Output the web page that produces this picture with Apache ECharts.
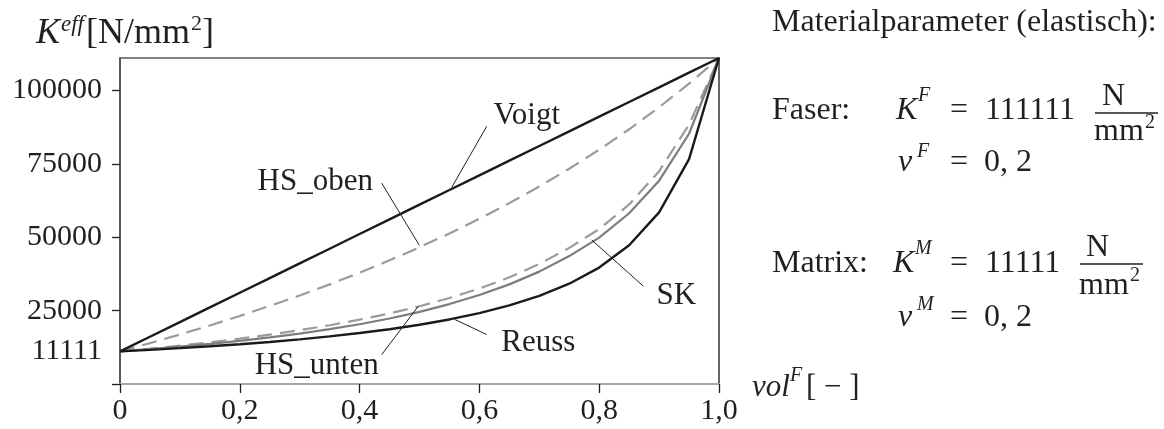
<!DOCTYPE html>
<html>
<head>
<meta charset="utf-8">
<script src="https://cdn.jsdelivr.net/npm/echarts@6/dist/echarts.min.js"></script>
<style>
html,body{margin:0;padding:0;background:#fff;}
#chart{width:1164px;height:429px;}
</style>
</head>
<body>
<div id="chart"></div>
<script>
// ---- data ----
const volF = [0, 0.05, 0.1, 0.15, 0.2, 0.25, 0.3, 0.35, 0.4, 0.45, 0.5, 0.55, 0.6, 0.65, 0.7, 0.75, 0.8, 0.85, 0.9, 0.95, 1.0];
const voigt = [11111, 16111, 21111, 26111, 31111, 36111, 41111, 46111, 51111, 56111, 61111, 66111, 71111, 76111, 81111, 86111, 91111, 96111, 101111, 106111, 111111];
const hsOben = [11111, 13924, 16870, 19958, 23199, 26604, 30186, 33960, 37940, 42145, 46595, 51310, 56316, 61641, 67315, 73375, 79861, 86820, 94304, 102377, 111111];
const hsUnten = [11111, 12059, 13091, 14220, 15459, 16825, 18340, 20028, 21922, 24061, 26496, 29293, 32540, 36354, 40898, 46405, 52800, 61200, 72500, 88400, 111111];
const sk = [11111, 11909, 12741, 13670, 14709, 15875, 17190, 18678, 20372, 22311, 24596, 27243, 30340, 33954, 38298, 43605, 49900, 58200, 69300, 85300, 111111];
const reuss = [11111, 11635, 12210, 12845, 13550, 14337, 15221, 16221, 17361, 18674, 20202, 22002, 24154, 26774, 30030, 34188, 39682, 47281, 58479, 76628, 111111];

const xTickLabels = ['0', '0,2', '0,4', '0,6', '0,8', '1,0'];
const yTickValues = [0, 25000, 50000, 75000, 100000];
const yLabelValues = [11111, 25000, 50000, 75000, 100000];

// curve labels and leader lines, in data units
const curveLabelNames = ['Voigt', 'HS_oben', 'SK', 'Reuss', 'HS_unten'];
const curveLabelAt = [[0.679, 91500], [0.326, 69000], [0.9287, 30000], [0.6984, 14000], [0.3283, 6100]];
const leaders = [
  [[0.6122, 87830], [0.5537, 66990]],
  [[0.4369, 68460], [0.4997, 47270]],
  [[0.8736, 33360], [0.7875, 49080]],
  [[0.6122, 16850], [0.5593, 21975]],
  [[0.4369, 10010], [0.4980, 26520]]
];

const pair = arr => volF.map((v, i) => [v, arr[i]]);
const FONT = '"Liberation Serif", "DejaVu Serif", serif';
const INK = '#231f20';

function t(x, y, text, size, italic, align) {
  return {
    type: 'text', x: x, y: y, silent: true, z: 10,
    style: {
      text: text, fontSize: size, fontFamily: FONT,
      fontStyle: italic ? 'italic' : 'normal',
      fill: INK, align: align || 'left', verticalAlign: 'middle'
    }
  };
}
function hline(x1, x2, y) {
  return { type: 'line', silent: true, shape: { x1: x1, y1: y, x2: x2, y2: y }, style: { stroke: INK, lineWidth: 1.3 } };
}

const staticGraphics = [
  // y axis name  K^eff [N/mm^2]
  t(36, 34, 'K', 36, true),
  t(61, 25, 'eff', 23, true),
  t(86, 34, '[N/mm', 36, false),
  t(191, 24, '2', 22, false),
  t(202, 34, ']', 36, false),
  // x axis name  vol^F [ − ]
  t(752, 388, 'vol', 31, true),
  t(790, 376, 'F', 20, true),
  t(806, 388, '[ − ]', 31, false),
  // parameter block
  t(772, 23, 'Materialparameter (elastisch):', 32, false),
  t(772, 111, 'Faser:', 32, false),
  t(896, 111, 'K', 32, true),
  t(918, 96, 'F', 20, true),
  t(950, 111, '=', 32, false),
  t(985, 111, '111111', 32, false),
  t(1102, 97, 'N', 32, false),
  hline(1095, 1158, 113),
  t(1094, 132, 'mm', 32, false),
  t(1145, 123, '2', 20, false),
  t(898, 163, 'ν', 32, true),
  t(917, 152, 'F', 20, true),
  t(950, 163, '=', 32, false),
  t(984, 163, '0, 2', 32, false),
  t(772, 264, 'Matrix:', 32, false),
  t(893, 264, 'K', 32, true),
  t(915, 249, 'M', 20, true),
  t(950, 264, '=', 32, false),
  t(985, 264, '11111', 32, false),
  t(1086, 248, 'N', 32, false),
  hline(1080, 1143, 264),
  t(1079, 286, 'mm', 32, false),
  t(1130, 276, '2', 20, false),
  t(898, 318, 'ν', 32, true),
  t(917, 305, 'M', 20, true),
  t(950, 318, '=', 32, false),
  t(984, 318, '0, 2', 32, false)
];

const chart = echarts.init(document.getElementById('chart'));
chart.setOption({
  animation: false,
  backgroundColor: '#fff',
  grid: { left: 120, right: 445, top: 58, bottom: 45, show: false },
  xAxis: [{
    type: 'value', min: 0, max: 1, interval: 0.2,
    axisLine: { show: true, onZero: false, lineStyle: { color: '#a6a6a6', width: 2.2 } },
    axisTick: { show: true, inside: false, length: 9, lineStyle: { color: INK, width: 1.3 } },
    axisLabel: { margin: 12, fontSize: 30, fontFamily: FONT, color: INK, showMaxLabel: true, showMinLabel: true,
      formatter: (v, i) => xTickLabels[i] },
    splitLine: { show: false }
  }, {
    type: 'value', min: 0, max: 1, position: 'top',
    axisLine: { show: true, onZero: false, lineStyle: { color: '#5a5a5a', width: 1.5 } },
    axisTick: { show: false }, axisLabel: { show: false }, splitLine: { show: false }
  }],
  yAxis: [{
    type: 'value', min: 0, max: 111111,
    axisLine: { show: true, onZero: false, lineStyle: { color: INK, width: 1.5 } },
    axisTick: { show: true, inside: false, length: 8, customValues: yTickValues, lineStyle: { color: INK, width: 1.3 } },
    axisLabel: { margin: 18, fontSize: 30, fontFamily: FONT, color: INK, customValues: yLabelValues,
      formatter: v => String(v) },
    splitLine: { show: false }
  }, {
    type: 'value', min: 0, max: 111111, position: 'right',
    axisLine: { show: true, onZero: false, lineStyle: { color: '#333', width: 1.5 } },
    axisTick: { show: false }, axisLabel: { show: false }, splitLine: { show: false }
  }],
  series: [
    { name: 'HS_oben', type: 'line', data: pair(hsOben), showSymbol: false, symbol: 'none',
      lineStyle: { color: '#9b9b9b', width: 2.2, type: [15, 8] }, z: 2 },
    { name: 'HS_unten', type: 'line', data: pair(hsUnten), showSymbol: false, symbol: 'none',
      lineStyle: { color: '#9b9b9b', width: 2.2, type: [15, 8] }, z: 2 },
    { name: 'SK', type: 'line', data: pair(sk), showSymbol: false, symbol: 'none',
      lineStyle: { color: '#7d7d7d', width: 2.2 }, z: 3 },
    { name: 'Reuss', type: 'line', data: pair(reuss), showSymbol: false, symbol: 'none',
      lineStyle: { color: '#1a1a1a', width: 2.4 }, z: 4 },
    { name: 'Voigt', type: 'line', data: pair(voigt), showSymbol: false, symbol: 'none',
      lineStyle: { color: '#1a1a1a', width: 2.4 }, z: 4 },
    { name: 'leaders', type: 'lines', coordinateSystem: 'cartesian2d', polyline: false, silent: true,
      data: leaders.map(c => ({ coords: c })),
      lineStyle: { color: INK, width: 1, opacity: 1, curveness: 0 }, z: 5 }
  ],
  graphic: staticGraphics
});

// curve name labels, positioned through the chart's own scales
const labelGraphics = curveLabelNames.map((name, i) => {
  const p = chart.convertToPixel({ gridIndex: 0 }, curveLabelAt[i]);
  const g = t(p[0], p[1], name, 31, false, 'center');
  return g;
});
chart.setOption({ graphic: staticGraphics.concat(labelGraphics) }, { replaceMerge: ['graphic'] });
</script>
</body>
</html>
